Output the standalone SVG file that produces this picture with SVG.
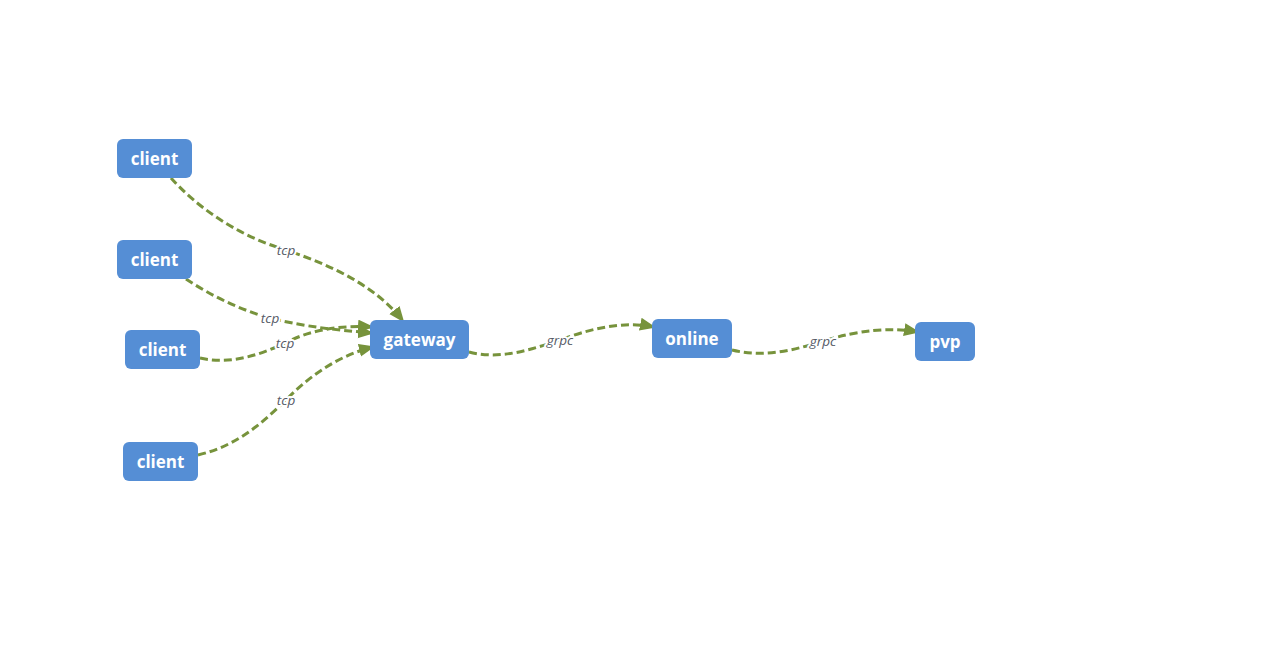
<svg xmlns="http://www.w3.org/2000/svg" width="1264" height="659" viewBox="0 0 1264 659">
<style>
.node rect{fill:#558ED5;}
.node text{fill:#ffffff;font-family:"Open Sans","Noto Sans",sans-serif;font-weight:bold;font-size:17px;text-anchor:middle;dominant-baseline:central;}
.edge{fill:none;stroke:#77933C;stroke-width:3;stroke-dasharray:8,4;marker-end:url(#arrow);}
.lbl{font-family:"Open Sans","Noto Sans",sans-serif;font-style:italic;font-size:13.5px;fill:#555a66;text-anchor:middle;dominant-baseline:central;stroke:#ffffff;stroke-width:4;paint-order:stroke;stroke-linejoin:round;}
</style>
<defs>
<marker id="arrow" markerUnits="userSpaceOnUse" markerWidth="18" markerHeight="14" refX="14" refY="6.5" orient="auto">
<path d="M0,0 L16,6.5 L0,13 z" fill="#77933C"/>
</marker>
</defs>
<rect width="1264" height="659" fill="#ffffff"/>
<g id="connectors">
<path class="edge" d="M171,178 C195,205 235,235 286,250 C330,265 375,285 403,321"/>
<path class="edge" d="M186,279 C210,295 240,310 270,318 C310,328 340,330 372,333"/>
<path class="edge" d="M200,358 C230,365 260,355 285,343 C310,330 340,325 372,327"/>
<path class="edge" d="M198,455 C240,445 265,420 286,400 C310,375 340,355 373,347"/>
<path class="edge" d="M469,352 C500,360 530,350 560,340 C600,325 630,322 654,327"/>
<path class="edge" d="M732,350 C765,358 795,350 823,341 C860,330 890,327 918,332"/>
<text class="lbl" x="286" y="250">tcp</text>
<text class="lbl" x="270" y="318">tcp</text>
<text class="lbl" x="285" y="343">tcp</text>
<text class="lbl" x="286" y="400">tcp</text>
<text class="lbl" x="560" y="340">grpc</text>
<text class="lbl" x="823" y="341">grpc</text>
</g>
<g id="client1" class="node"><rect x="117" y="139" width="75" height="39" rx="6"/><text x="154.5" y="158.5">client</text></g>
<g id="client2" class="node"><rect x="117" y="240" width="75" height="39" rx="6"/><text x="154.5" y="259.5">client</text></g>
<g id="client3" class="node"><rect x="125" y="330" width="75" height="39" rx="6"/><text x="162.5" y="349.5">client</text></g>
<g id="client4" class="node"><rect x="123" y="442" width="75" height="39" rx="6"/><text x="160.5" y="461.5">client</text></g>
<g id="gateway" class="node"><rect x="370" y="320" width="99" height="39" rx="6"/><text x="419.5" y="339.5">gateway</text></g>
<g id="online" class="node"><rect x="652" y="319" width="80" height="39" rx="6"/><text x="692" y="338.5">online</text></g>
<g id="pvp" class="node"><rect x="915" y="322" width="60" height="39" rx="6"/><text x="945" y="341.5">pvp</text></g>
</svg>
